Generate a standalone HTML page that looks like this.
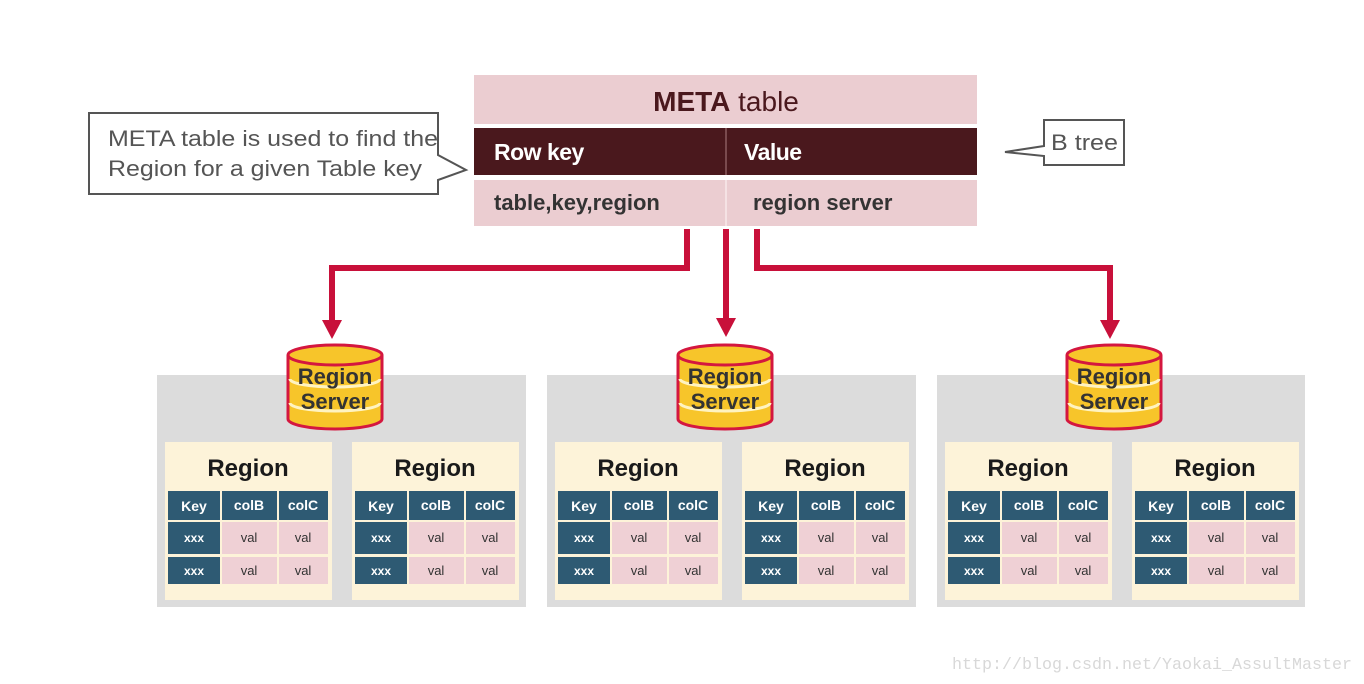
<!DOCTYPE html>
<html><head><meta charset="utf-8"><style>
html,body{margin:0;padding:0;background:#fff;}
svg{display:block;}
.rt{font:bold 24px "Liberation Sans",sans-serif;fill:#1a1a1a;text-anchor:middle;}
.h{font:bold 14px "Liberation Sans",sans-serif;fill:#fff;text-anchor:middle;}
.x{font:bold 12px "Liberation Sans",sans-serif;fill:#fff;text-anchor:middle;}
.v{font:13px "Liberation Sans",sans-serif;fill:#333;text-anchor:middle;}
.cy{font:bold 22px "Liberation Sans",sans-serif;fill:#333;text-anchor:middle;}
</style></head><body>
<svg width="1364" height="684" viewBox="0 0 1364 684" xmlns="http://www.w3.org/2000/svg">
<defs>
<g id="reg">
<rect x="0" y="0" width="167" height="158" fill="#fdf3d9"/>
<rect x="3" y="49" width="52" height="29" fill="#2e5a73"/>
<rect x="57" y="49" width="55" height="29" fill="#2e5a73"/>
<rect x="114" y="49" width="49" height="29" fill="#2e5a73"/>
<rect x="3" y="80" width="52" height="32" fill="#2e5a73"/>
<rect x="57" y="80" width="55" height="32" fill="#efd0d5"/>
<rect x="114" y="80" width="49" height="32" fill="#efd0d5"/>
<rect x="3" y="115" width="52" height="27" fill="#2e5a73"/>
<rect x="57" y="115" width="55" height="27" fill="#efd0d5"/>
<rect x="114" y="115" width="49" height="27" fill="#efd0d5"/>
</g>
<g id="cyl">
<path d="M-47,10 L-47,74 A47,10 0 0 0 47,74 L47,10" fill="#f7c52a" stroke="#d4173f" stroke-width="3"/>
<ellipse cx="0" cy="10" rx="47" ry="10" fill="#f7c52a" stroke="#d4173f" stroke-width="3"/>
<path d="M-45,34 A45,8 0 0 0 45,34" fill="none" stroke="#fff3c0" stroke-width="3"/>
<path d="M-45,58 A45,8 0 0 0 45,58" fill="none" stroke="#fff3c0" stroke-width="3"/>
</g>
</defs>

<path d="M89,113 L438,113 L438,155 L466,170 L438,180 L438,194 L89,194 Z" fill="#fff" stroke="#555" stroke-width="2"/>
<text x="108" y="146" font-family="Liberation Sans,sans-serif" font-size="22" fill="#555" textLength="330" lengthAdjust="spacingAndGlyphs">META table is used to find the</text>
<text x="108" y="176" font-family="Liberation Sans,sans-serif" font-size="22" fill="#555" textLength="314" lengthAdjust="spacingAndGlyphs">Region for a given Table key</text>

<path d="M1044,120 L1124,120 L1124,165 L1044,165 L1044,156 L1005,152 L1044,146 Z" fill="#fff" stroke="#555" stroke-width="2"/>
<text x="1051" y="150" font-family="Liberation Sans,sans-serif" font-size="22" fill="#555" textLength="67" lengthAdjust="spacingAndGlyphs">B tree</text>

<rect x="474" y="75" width="503" height="49" fill="#ebcdd1"/>
<rect x="474" y="128" width="503" height="47" fill="#4a181d"/>
<rect x="474" y="180" width="503" height="46" fill="#ebcdd1"/>
<rect x="725" y="128" width="2" height="47" fill="#7a4a4e"/>
<rect x="725" y="180" width="2" height="46" fill="#f5e2e4"/>
<text x="726" y="111" text-anchor="middle" font-family="Liberation Sans,sans-serif" font-size="28" fill="#4a181d"><tspan font-weight="bold">META</tspan> table</text>
<text x="494" y="160" font-family="Liberation Sans,sans-serif" font-weight="bold" font-size="23" fill="#fff" letter-spacing="-0.5">Row key</text>
<text x="744" y="160" font-family="Liberation Sans,sans-serif" font-weight="bold" font-size="23" fill="#fff" letter-spacing="-0.5">Value</text>
<text x="494" y="210" font-family="Liberation Sans,sans-serif" font-weight="bold" font-size="22" fill="#333">table,key,region</text>
<text x="753" y="210" font-family="Liberation Sans,sans-serif" font-weight="bold" font-size="22" fill="#333">region server</text>

<g fill="none" stroke="#c8103a" stroke-width="6">
<path d="M687,229 L687,268 L332,268 L332,322"/>
<path d="M726,229 L726,320"/>
<path d="M757,229 L757,268 L1110,268 L1110,322"/>
</g>
<g fill="#c8103a">
<path d="M322,320 L342,320 L332,339 Z"/>
<path d="M716,318 L736,318 L726,337 Z"/>
<path d="M1100,320 L1120,320 L1110,339 Z"/>
</g>

<rect x="157" y="375" width="369" height="232" fill="#dcdcdc"/>
<rect x="547" y="375" width="369" height="232" fill="#dcdcdc"/>
<rect x="937" y="375" width="368" height="232" fill="#dcdcdc"/>

<use href="#cyl" transform="translate(335,345)"/>
<use href="#cyl" transform="translate(725,345)"/>
<use href="#cyl" transform="translate(1114,345)"/>
<text class="cy" x="335" y="384">Region</text><text class="cy" x="335" y="409">Server</text>
<text class="cy" x="725" y="384">Region</text><text class="cy" x="725" y="409">Server</text>
<text class="cy" x="1114" y="384">Region</text><text class="cy" x="1114" y="409">Server</text>

<use href="#reg" transform="translate(165,442)"/>
<use href="#reg" transform="translate(352,442)"/>
<use href="#reg" transform="translate(555,442)"/>
<use href="#reg" transform="translate(742,442)"/>
<use href="#reg" transform="translate(945,442)"/>
<use href="#reg" transform="translate(1132,442)"/>

<g transform="translate(165,442)"><text class="rt" x="83" y="34">Region</text><text class="h" x="29" y="69">Key</text><text class="h" x="84" y="68" font-size="12">colB</text><text class="h" x="138" y="68" font-size="12">colC</text><text class="x" x="29" y="100">xxx</text><text class="v" x="84" y="100">val</text><text class="v" x="138" y="100">val</text><text class="x" x="29" y="133">xxx</text><text class="v" x="84" y="133">val</text><text class="v" x="138" y="133">val</text></g>
<g transform="translate(352,442)"><text class="rt" x="83" y="34">Region</text><text class="h" x="29" y="69">Key</text><text class="h" x="84" y="68" font-size="12">colB</text><text class="h" x="138" y="68" font-size="12">colC</text><text class="x" x="29" y="100">xxx</text><text class="v" x="84" y="100">val</text><text class="v" x="138" y="100">val</text><text class="x" x="29" y="133">xxx</text><text class="v" x="84" y="133">val</text><text class="v" x="138" y="133">val</text></g>
<g transform="translate(555,442)"><text class="rt" x="83" y="34">Region</text><text class="h" x="29" y="69">Key</text><text class="h" x="84" y="68" font-size="12">colB</text><text class="h" x="138" y="68" font-size="12">colC</text><text class="x" x="29" y="100">xxx</text><text class="v" x="84" y="100">val</text><text class="v" x="138" y="100">val</text><text class="x" x="29" y="133">xxx</text><text class="v" x="84" y="133">val</text><text class="v" x="138" y="133">val</text></g>
<g transform="translate(742,442)"><text class="rt" x="83" y="34">Region</text><text class="h" x="29" y="69">Key</text><text class="h" x="84" y="68" font-size="12">colB</text><text class="h" x="138" y="68" font-size="12">colC</text><text class="x" x="29" y="100">xxx</text><text class="v" x="84" y="100">val</text><text class="v" x="138" y="100">val</text><text class="x" x="29" y="133">xxx</text><text class="v" x="84" y="133">val</text><text class="v" x="138" y="133">val</text></g>
<g transform="translate(945,442)"><text class="rt" x="83" y="34">Region</text><text class="h" x="29" y="69">Key</text><text class="h" x="84" y="68" font-size="12">colB</text><text class="h" x="138" y="68" font-size="12">colC</text><text class="x" x="29" y="100">xxx</text><text class="v" x="84" y="100">val</text><text class="v" x="138" y="100">val</text><text class="x" x="29" y="133">xxx</text><text class="v" x="84" y="133">val</text><text class="v" x="138" y="133">val</text></g>
<g transform="translate(1132,442)"><text class="rt" x="83" y="34">Region</text><text class="h" x="29" y="69">Key</text><text class="h" x="84" y="68" font-size="12">colB</text><text class="h" x="138" y="68" font-size="12">colC</text><text class="x" x="29" y="100">xxx</text><text class="v" x="84" y="100">val</text><text class="v" x="138" y="100">val</text><text class="x" x="29" y="133">xxx</text><text class="v" x="84" y="133">val</text><text class="v" x="138" y="133">val</text></g>

<text x="952" y="669" font-family="Liberation Mono,monospace" font-size="17" fill="#d8d8d8" textLength="400" lengthAdjust="spacingAndGlyphs">http://blog.csdn.net/Yaokai_AssultMaster</text>
</svg>
</body></html>
